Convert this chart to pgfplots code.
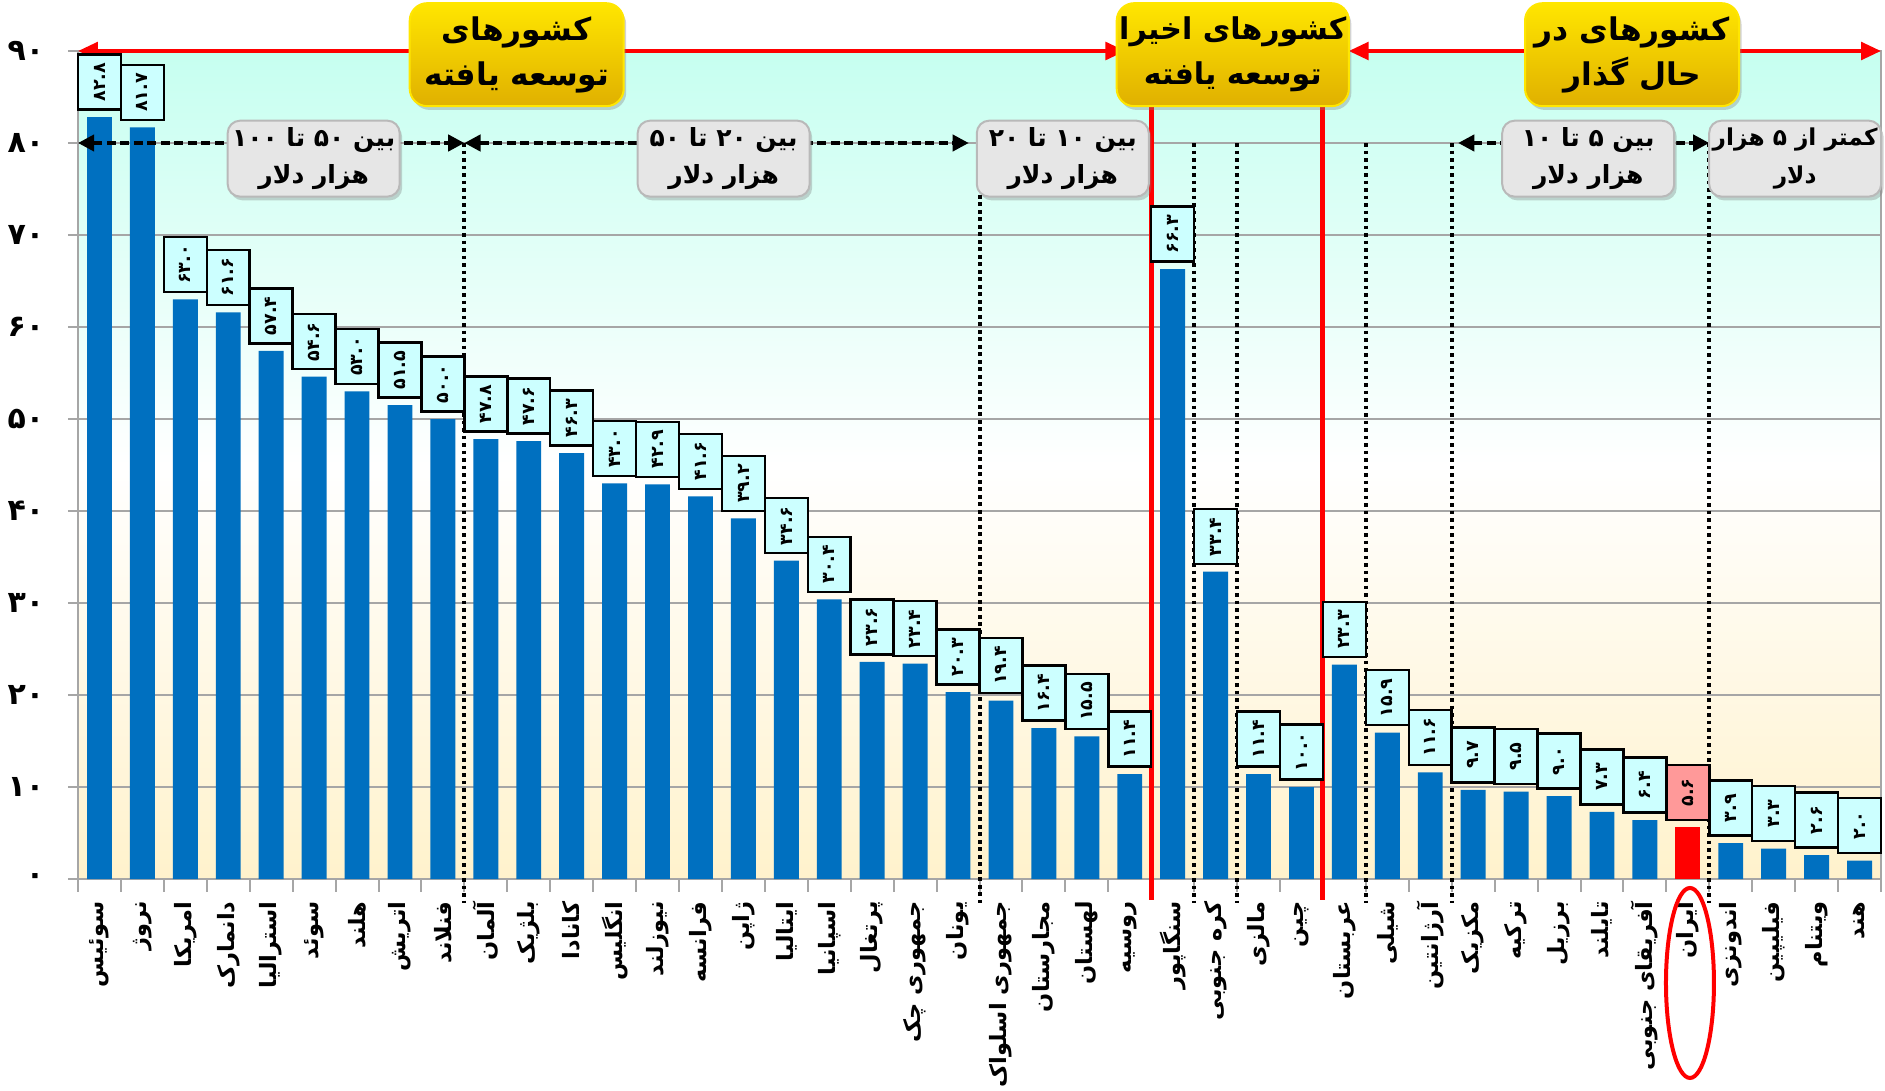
\documentclass[border=0pt]{standalone}
\usepackage{fontspec}
\usepackage{pgfplots}
\pgfplotsset{compat=1.18}
\usetikzlibrary{arrows.meta,shadows}
\newfontfamily\fa[Script=Arabic]{DejaVu Sans}
\TeXXeTstate=1
\newcommand\R[1]{\beginR #1\endR}
\definecolor{barblue}{RGB}{0,112,192}
\definecolor{lblcyan}{RGB}{204,255,255}
\definecolor{lblpink}{RGB}{255,153,153}
\definecolor{bgtop}{RGB}{198,255,240}
\definecolor{bgbot}{RGB}{255,242,204}
\definecolor{goldtop}{RGB}{255,230,0}
\definecolor{goldbot}{RGB}{224,176,0}
\definecolor{boxgray}{RGB}{230,230,230}
\definecolor{gridgray}{RGB}{166,166,166}
\tikzset{lbl/.style={rotate=90, anchor=west, draw=black, line width=1pt, fill=lblcyan,
    minimum width=22pt, minimum height=17.17pt, inner sep=0pt, outer xsep=3pt,
    text=black, font=\fa\bfseries\fontsize{7}{7}\selectfont}}
\begin{document}
\begin{tikzpicture}[
  graybox/.style={draw=gray!55, line width=0.8pt, fill=boxgray, rounded corners=5pt,
    minimum width=68.8pt, minimum height=30.4pt, align=center, inner sep=1pt,
    font=\fa\bfseries\fontsize{10}{15}\selectfont,
    drop shadow={shadow xshift=1pt, shadow yshift=-1.5pt, opacity=0.35}},
  goldbox/.style={draw=goldtop, line width=0.8pt, top color=goldtop, bottom color=goldbot,
    rounded corners=7pt, minimum width=85.6pt, minimum height=41.2pt, align=center, inner sep=1pt,
    font=\fa\bfseries\fontsize{12.5}{18}\selectfont,
    drop shadow={shadow xshift=1pt, shadow yshift=-1.5pt, opacity=0.35}},
  dasharr/.style={black, line width=1.5pt, dash pattern=on 3.6pt off 1.8pt,
    {Triangle[length=6.5pt,width=6.5pt]}-{Triangle[length=6.5pt,width=6.5pt]}},
  dotln/.style={black, line width=1.6pt, dash pattern=on 1.5pt off 1.5pt},
  redarr/.style={red, line width=1.6pt, {Triangle[length=8pt,width=7pt]}-{Triangle[length=8pt,width=7pt]}},
]
\begin{axis}[
  name=ax, scale only axis, width=721.2pt, height=331.2pt,
  xmin=-0.5, xmax=41.5, ymin=0, ymax=90, clip=false,
  axis line style={gridgray, line width=0.8pt},
  axis background/.style={shade, top color=bgtop, bottom color=bgbot, middle color=white},
  ymajorgrids, grid style={gridgray, line width=0.8pt},
  ytick={0,10,...,90},
  yticklabels={۰,۱۰,۲۰,۳۰,۴۰,۵۰,۶۰,۷۰,۸۰,۹۰},
  xtick={0,...,41},
  xticklabels={\R{سوئیس},\R{نروژ},\R{امریکا},\R{دانمارک},\R{استرالیا},\R{سوئد},\R{هلند},\R{اتریش},\R{فنلاند},\R{آلمان},\R{بلژیک},\R{کانادا},\R{انگلیس},\R{نیوزلند},\R{فرانسه},\R{ژاپن},\R{ایتالیا},\R{اسپانیا},\R{پرتغال},\R{جمهوری چک},\R{یونان},\R{جمهوری اسلواک},\R{مجارستان},\R{لهستان},\R{روسیه},\R{سنگاپور},\R{کره جنوبی},\R{مالزی},\R{چین},\R{عربستان},\R{شیلی},\R{آرژانتین},\R{مکزیک},\R{ترکیه},\R{برزیل},\R{تایلند},\R{آفریقای جنوبی},\R{ایران},\R{اندونزی},\R{فیلیپین},\R{ویتنام},\R{هند}},
  minor xtick={-0.5,0.5,...,41.5},
  tick align=outside, tick pos=left,
  major tick length=4pt, minor tick length=5pt,
  tick style={gridgray, line width=0.8pt},
  major x tick style={draw=none},
  yticklabel style={font=\fa\bfseries\fontsize{12}{12}\selectfont, text=black, xshift=-6pt},
  xticklabel style={font=\fa\bfseries\fontsize{9}{9}\selectfont, text=black, rotate=90, anchor=east, outer xsep=4pt, inner sep=1pt},
]
\addplot[ybar, bar width=0.58, bar shift=0pt, fill=barblue, draw=none,
  point meta=explicit symbolic, nodes near coords,
  every node near coord/.append style={lbl}] coordinates {
  (0,82.8) [۸۲.۸] (1,81.7) [۸۱.۷] (2,63.0) [۶۳.۰] (3,61.6) [۶۱.۶] (4,57.4) [۵۷.۴]
  (5,54.6) [۵۴.۶] (6,53.0) [۵۳.۰] (7,51.5) [۵۱.۵] (8,50.0) [۵۰.۰] (9,47.8) [۴۷.۸]
  (10,47.6) [۴۷.۶] (11,46.3) [۴۶.۳] (12,43.0) [۴۳.۰] (13,42.9) [۴۲.۹] (14,41.6) [۴۱.۶]
  (15,39.2) [۳۹.۲] (16,34.6) [۳۴.۶] (17,30.4) [۳۰.۴] (18,23.6) [۲۳.۶] (19,23.4) [۲۳.۴]
  (20,20.3) [۲۰.۳] (21,19.4) [۱۹.۴] (22,16.4) [۱۶.۴] (23,15.5) [۱۵.۵] (24,11.4) [۱۱.۴]
  (25,66.3) [۶۶.۳] (26,33.4) [۳۳.۴] (27,11.4) [۱۱.۴] (28,10.0) [۱۰.۰] (29,23.3) [۲۳.۳]
  (30,15.9) [۱۵.۹] (31,11.6) [۱۱.۶] (32,9.7) [۹.۷] (33,9.5) [۹.۵] (34,9.0) [۹.۰]
  (35,7.3) [۷.۳] (36,6.4) [۶.۴] (38,3.9) [۳.۹] (39,3.3) [۳.۳] (40,2.6) [۲.۶] (41,2.0) [۲.۰]
};
\addplot[ybar, bar width=0.58, bar shift=0pt, fill=red, draw=none,
  point meta=explicit symbolic, nodes near coords,
  every node near coord/.append style={lbl, fill=lblpink}] coordinates {
  (37,5.6) [۵.۶]
};
% red group arrows
\draw[redarr] (axis cs:-0.5,90) -- (axis cs:23.9,90);
\draw[redarr] (axis cs:29.1,90) -- (axis cs:41.5,90);
% black dashed arrows
\draw[dasharr] (axis cs:-0.5,80) -- (axis cs:8.5,80);
\draw[dasharr] (axis cs:8.5,80) -- (axis cs:20.25,80);
\draw[dasharr] (axis cs:31.65,80) -- (axis cs:37.5,80);
% dotted separators
\draw[dotln] (axis cs:8.5,80) -- (axis cs:8.5,-2.6);
\draw[dotln] (axis cs:20.5,76) -- (axis cs:20.5,-2.6);
\draw[dotln] (axis cs:25.5,80) -- (axis cs:25.5,-2.6);
\draw[dotln] (axis cs:26.5,80) -- (axis cs:26.5,-2.6);
\draw[dotln] (axis cs:29.5,80) -- (axis cs:29.5,-2.6);
\draw[dotln] (axis cs:31.5,80) -- (axis cs:31.5,-2.6);
\draw[dotln] (axis cs:37.5,80) -- (axis cs:37.5,-2.6);
% red separators
\draw[red, line width=2pt] (axis cs:24.5,86) -- (axis cs:24.5,-2.3);
\draw[red, line width=2pt] (axis cs:28.5,86) -- (axis cs:28.5,-2.3);
% gray range boxes
\node[graybox] at (axis cs:4.99,78.3) {\R{بین ۵۰ تا ۱۰۰}\\\R{هزار دلار}};
\node[graybox] at (axis cs:14.54,78.3) {\R{بین ۲۰ تا ۵۰}\\\R{هزار دلار}};
\node[graybox] at (axis cs:22.44,78.3) {\R{بین ۱۰ تا ۲۰}\\\R{هزار دلار}};
\node[graybox] at (axis cs:34.68,78.3) {\R{بین ۵ تا ۱۰}\\\R{هزار دلار}};
\node[graybox, font=\fa\bfseries\fontsize{9.3}{15}\selectfont] at (axis cs:39.5,78.3) {\R{کمتر از ۵ هزار}\\\R{دلار}};
% gold group boxes
\node[goldbox] at (axis cs:9.72,89.6) {\R{کشورهای}\\\R{توسعه یافته}};
\node[goldbox, font=\fa\bfseries\fontsize{12}{18}\selectfont] at (axis cs:26.4,89.6) {\R{کشورهای اخیرا}\\\R{توسعه یافته}};
\node[goldbox] at (axis cs:35.7,89.6) {\R{کشورهای در}\\\R{حال گذار}};
% Iran ellipse
\draw[red, line width=1.6pt] (axis cs:37.05,-11.3) ellipse [x radius=9.6pt, y radius=38pt];
\end{axis}
\pgfresetboundingbox
\path[use as bounding box] (ax.south west) ++(-31.2pt,-84.4pt) rectangle ++(754pt,436pt);
\end{tikzpicture}
\end{document}
